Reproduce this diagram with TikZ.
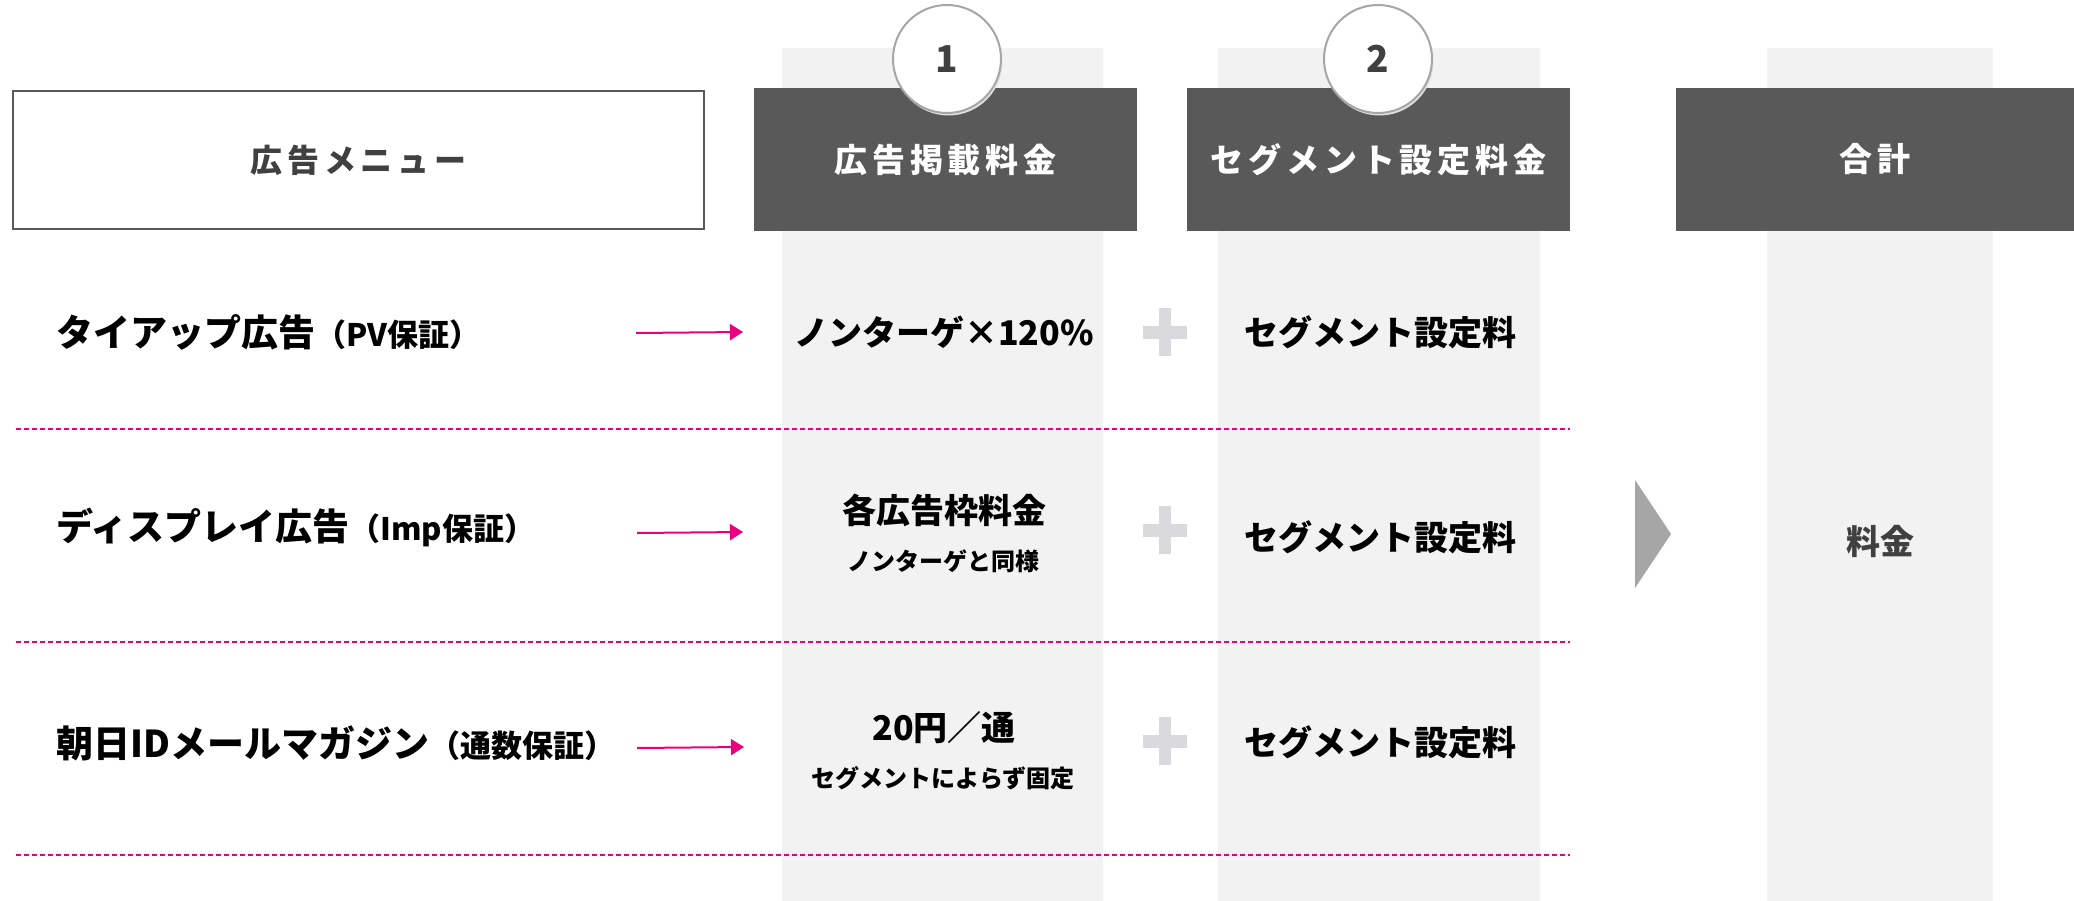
\documentclass[tikz,border=0pt]{standalone}
\usepackage{fontspec}
\setmainfont{Noto Sans CJK JP}
\newfontfamily\jpsp{Noto Sans CJK JP}[LetterSpace=15]
\usetikzlibrary{arrows.meta}
\definecolor{hdr}{HTML}{595959}
\definecolor{colbg}{HTML}{F2F2F2}
\definecolor{pk}{HTML}{E8017F}
\definecolor{plusc}{HTML}{D9D9DE}
\definecolor{chev}{HTML}{A6A6A6}
\definecolor{txtd}{HTML}{404040}
\begin{document}
\begin{tikzpicture}[x=1pt,y=-1pt,
  rowtxt/.style={anchor=west,inner sep=0pt,font=\bfseries\fontsize{37}{40}\selectfont,text=black},
  celltxt/.style={inner sep=0pt,font=\bfseries\fontsize{34}{38}\selectfont,text=black},
  subtxt/.style={inner sep=0pt,font=\bfseries\fontsize{24}{26}\selectfont,text=black},
  hdrbox/.style={fill=hdr,draw=none,inner sep=0pt,text=white,font=\jpsp\bfseries\fontsize{33}{36}\selectfont},
  menubox/.style={fill=white,draw=hdr,line width=1.5pt,inner sep=0pt,text=txtd,font=\jpsp\bfseries\fontsize{32}{34}\selectfont},
  numcirc/.style={circle,fill=white,draw=chev,line width=2pt,minimum size=108pt,inner sep=0pt,text=txtd,font=\bfseries\fontsize{37}{40}\selectfont},
  pkdash/.style={draw=pk,line width=1.6pt,dash pattern=on 5pt off 3pt},
  pkarrow/.style={draw=pk,line width=2pt,-{Triangle[length=13pt,width=16pt]}},
  plusfill/.style={fill=plusc},
]
\useasboundingbox (0,0) rectangle (2074,901);
\fill[white] (0,0) rectangle (2074,901);
% column backgrounds
\fill[colbg] (782,48) rectangle (1103,901);
\fill[colbg] (1218,48) rectangle (1540,901);
\fill[colbg] (1767,48) rectangle (1993,901);
% dashed separators
\draw[pkdash] (16,429) -- (1570,429);
\draw[pkdash] (16,642) -- (1570,642);
\draw[pkdash] (16,855) -- (1570,855);
% headers
\node[menubox,minimum width=691pt,minimum height=138pt] (hmenu) at (358.5,160) {広告メニュー};
\node[hdrbox,minimum width=383pt,minimum height=143pt] (h1) at (945.5,159.5) {広告掲載料金};
\node[hdrbox,minimum width=383pt,minimum height=143pt] (h2) at (1378.5,159.5) {セグメント設定料金};
\node[hdrbox,minimum width=398pt,minimum height=143pt] (h3) at (1875,159.5) {合計};
\fill[black!12] (948.5,61.5) circle (54pt);
\fill[black!12] (1379.5,61.5) circle (54pt);
\node[numcirc] (c1) at (947,59) {1};
\node[numcirc] (c2) at (1378,59) {2};
% row labels
\node[rowtxt] (r1) at (56,332) {タイアップ広告{\fontsize{31}{32}\selectfont （PV保証）}};
\node[rowtxt] (r2) at (56,527) {ディスプレイ広告{\fontsize{31}{32}\selectfont （Imp保証）}};
\node[rowtxt] (r3) at (56,743) {朝日IDメールマガジン{\fontsize{31}{32}\selectfont （通数保証）}};
% arrows
\coordinate (a1s) at (636,333); \coordinate (a1e) at (743,332);
\coordinate (a2s) at (637,533); \coordinate (a2e) at (743,532);
\coordinate (a3s) at (637,748); \coordinate (a3e) at (744,747);
\draw[pkarrow] (a1s) -- (a1e);
\draw[pkarrow] (a2s) -- (a2e);
\draw[pkarrow] (a3s) -- (a3e);
% column 1 cells
\node[celltxt] (p1) at (944,332) {ノンターゲ×120\%};
\node[celltxt] (p2) at (944,510) {各広告枠料金};
\node[subtxt] (p2s) at (943,561) {ノンターゲと同様};
\node[celltxt] (p3) at (944,728) {20円／通};
\node[subtxt] (p3s) at (943,778) {セグメントによらず固定};
% plus signs
\foreach \cy in {332,530,741}{
  \fill[plusfill] (1159,\cy-24) rectangle (1171,\cy+24);
  \fill[plusfill] (1143,\cy-6.5) rectangle (1187,\cy+6.5);
}
% column 2 cells
\node[celltxt] (s1) at (1380,332) {セグメント設定料};
\node[celltxt] (s2) at (1380,537) {セグメント設定料};
\node[celltxt] (s3) at (1380,742) {セグメント設定料};
% chevron
\fill[chev] (1635,480) -- (1671,534) -- (1635,588) -- cycle;
% total
\node[celltxt,text=txtd] (t1) at (1880,541) {料金};
\end{tikzpicture}
\end{document}
